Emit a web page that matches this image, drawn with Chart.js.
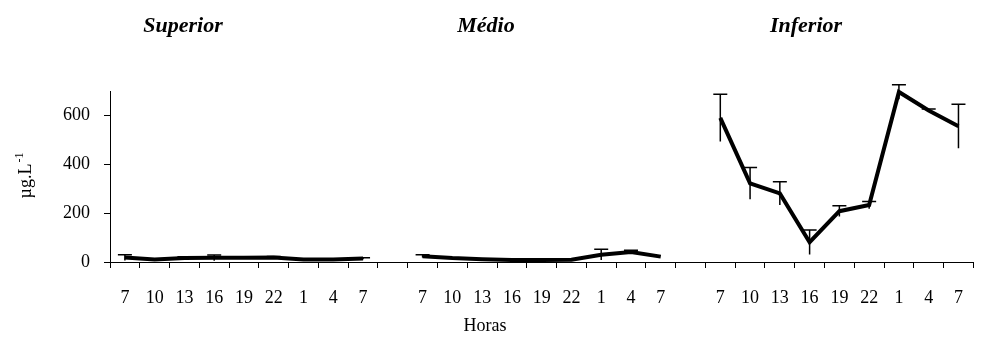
<!DOCTYPE html>
<html>
<head>
<meta charset="utf-8">
<script src="https://cdn.jsdelivr.net/npm/chart.js@4.4.1/dist/chart.umd.min.js"></script>
<style>
  html, body { margin: 0; padding: 0; background: #ffffff; }
  #wrap { width: 982px; height: 349px; position: relative; }
</style>
</head>
<body>
<div id="wrap"><canvas id="c"></canvas></div>
<script>
// ---- data ----
const hours = ['7', '10', '13', '16', '19', '22', '1', '4', '7'];
const panelNames = ['Superior', 'Médio', 'Inferior'];
const superiorValues = [18, 10, 16, 17, 17, 18, 10, 10, 14];
const superiorErrors = [12, 0, 6, 12, 0, 5, 0, 0, 3];
const medioValues = [24, 16, 11, 8, 8, 9, 30, 41, 22];
const medioErrors = [6, 0, 0, 0, 0, 3, 22, 7, 0];
const inferiorValues = [590, 322, 281, 81, 208, 233, 696, 620, 556];
const inferiorErrors = [97, 65, 48, 50, 22, 15, 30, 6, 90];
const yTickLabels = [0, 200, 400, 600];
const yAxisTitle = 'µg.L';
const yAxisTitleSup = '-1';
const xAxisTitle = 'Horas';

// ---- build category axis: 3 panels separated by one empty slot ----
const gap = 1;
const labels = [];
panelNames.forEach((p, i) => {
  hours.forEach(h => labels.push(h));
  if (i < panelNames.length - 1) for (let g = 0; g < gap; g++) labels.push('');
});
const panelStart = i => i * (hours.length + gap);

function fullArray(values, panel) {
  const arr = new Array(labels.length).fill(null);
  values.forEach((v, k) => { arr[panelStart(panel) + k] = v; });
  return arr;
}
const seriesValues = [superiorValues, medioValues, inferiorValues];
const seriesErrors = [superiorErrors, medioErrors, inferiorErrors];

const FONT = "'Liberation Serif', 'Times New Roman', serif";

const errorBarPlugin = {
  id: 'errorBars',
  afterDatasetsDraw(chart) {
    const ctx = chart.ctx;
    const xs = chart.scales.x, ys = chart.scales.y;
    ctx.save();
    ctx.strokeStyle = '#000';
    ctx.lineWidth = 1.5;
    seriesValues.forEach((vals, p) => {
      vals.forEach((v, k) => {
        const e = seriesErrors[p][k];
        if (!e) return;
        const x = xs.getPixelForValue(panelStart(p) + k);
        const yTop = ys.getPixelForValue(v + e);
        const yBot = ys.getPixelForValue(Math.max(0, v - e));
        ctx.beginPath();
        ctx.moveTo(x, yBot);
        ctx.lineTo(x, yTop);
        ctx.moveTo(x - 7, yTop);
        ctx.lineTo(x + 7, yTop);
        ctx.stroke();
      });
    });
    ctx.restore();
  }
};

const textPlugin = {
  id: 'texts',
  afterDraw(chart) {
    const ctx = chart.ctx;
    ctx.save();
    ctx.fillStyle = '#000';
    // panel titles
    ctx.font = "bold italic 22px " + FONT;
    ctx.textAlign = 'center';
    ctx.textBaseline = 'middle';
    const titleX = [183, 486, 806];
    panelNames.forEach((n, i) => ctx.fillText(n, titleX[i], 26));
    // x title
    ctx.font = "18px " + FONT;
    ctx.fillText(xAxisTitle, 485, 326);
    // y title rotated with superscript
    ctx.translate(25, 176);
    ctx.rotate(-Math.PI / 2);
    ctx.font = "18px " + FONT;
    const w1 = ctx.measureText(yAxisTitle).width;
    ctx.font = "12px " + FONT;
    const w2 = ctx.measureText(yAxisTitleSup).width;
    const start = -(w1 + w2) / 2;
    ctx.textAlign = 'left';
    ctx.textBaseline = 'alphabetic';
    ctx.font = "18px " + FONT;
    ctx.fillText(yAxisTitle, start, 6);
    ctx.font = "12px " + FONT;
    ctx.fillText(yAxisTitleSup, start + w1 + 1, -2);
    ctx.restore();
  }
};

const bgPlugin = {
  id: 'bg',
  beforeDraw(chart) {
    const ctx = chart.ctx;
    ctx.save();
    ctx.fillStyle = '#fff';
    ctx.fillRect(0, 0, chart.width, chart.height);
    ctx.restore();
  }
};

new Chart(document.getElementById('c'), {
  type: 'line',
  data: {
    labels: labels,
    datasets: seriesValues.map((vals, p) => ({
      label: panelNames[p],
      data: fullArray(vals, p),
      borderColor: '#000',
      borderWidth: 4,
      pointRadius: 0,
      tension: 0,
      spanGaps: false,
      fill: false,
      clip: false
    }))
  },
  options: {
    responsive: true,
    maintainAspectRatio: false,
    animation: false,
    layout: { padding: { left: 0, right: 2, top: 91, bottom: 0 } },
    plugins: { legend: { display: false }, tooltip: { enabled: false }, title: { display: false } },
    scales: {
      x: {
        type: 'category',
        offset: true,
        grid: { display: true, offset: true, drawOnChartArea: false, drawTicks: true, tickLength: 6, color: '#000', lineWidth: 1 },
        border: { display: true, color: '#000', width: 1 },
        ticks: { autoSkip: false, maxRotation: 0, minRotation: 0, padding: 19, color: '#000', font: { family: FONT, size: 18 } },
        afterFit(scale) { scale.height = 87; }
      },
      y: {
        min: 0,
        max: 700,
        grid: { display: true, drawOnChartArea: false, drawTicks: true, tickLength: 6, color: '#000', lineWidth: 1 },
        border: { display: true, color: '#000', width: 1 },
        ticks: {
          stepSize: 100,
          padding: 14,
          color: '#000',
          font: { family: FONT, size: 18 },
          callback: v => (yTickLabels.includes(v) ? String(v) : '')
        },
        afterFit(scale) { scale.width = 110; }
      }
    }
  },
  plugins: [bgPlugin, errorBarPlugin, textPlugin]
});
</script>
</body>
</html>
